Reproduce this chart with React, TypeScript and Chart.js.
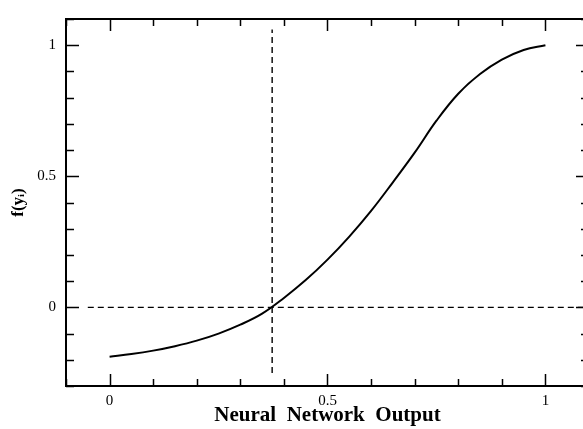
import React, { useEffect, useRef } from "react";
import { Chart, registerables } from "chart.js";

Chart.register(...registerables);

// Curve f(y_i) versus neural network output
const xValues = [0, 0.05, 0.1, 0.15, 0.2, 0.25, 0.3, 0.35, 0.4, 0.45, 0.5, 0.55, 0.6, 0.65, 0.7, 0.75, 0.8, 0.85, 0.9, 0.95, 1.0];
const yValues = [-0.188, -0.178, -0.165, -0.148, -0.127, -0.1, -0.066, -0.024, 0.036, 0.104, 0.182, 0.27, 0.368, 0.477, 0.59, 0.712, 0.815, 0.89, 0.945, 0.982, 1.0];

// Dashed reference lines
const zeroLineX = [-0.05, 1.1];
const zeroLineY = [0, 0];
const crossX = [0.373, 0.373];
const crossY = [-0.25, 1.06];

// Axis ticks
const xTickLabels = [0, 0.5, 1];
const yTickLabels = [0, 0.5, 1];
const xMinorTicks = [-0.1, 0, 0.1, 0.2, 0.3, 0.4, 0.5, 0.6, 0.7, 0.8, 0.9, 1.0, 1.1];
const yMinorTicks = [-0.3, -0.2, -0.1, 0, 0.1, 0.2, 0.3, 0.4, 0.5, 0.6, 0.7, 0.8, 0.9, 1.0, 1.1];

const X_MIN = -0.1;
const X_MAX = 1.1;
const Y_MIN = -0.3;
const Y_MAX = 1.1;

const isMajor = (v: number, list: number[]) => list.some((m) => Math.abs(m - v) < 1e-6);

const frameTicks = {
  id: "frameTicks",
  afterDraw(chart: any) {
    const ctx = chart.ctx;
    const { left, right, top, bottom } = chart.chartArea;
    const xs = chart.scales.x;
    const ys = chart.scales.y;
    ctx.save();
    ctx.strokeStyle = "#000";
    ctx.lineWidth = 2;
    ctx.beginPath();
    ctx.moveTo(left, top);
    ctx.lineTo(right, top);
    ctx.lineTo(right, bottom);
    ctx.lineTo(left, bottom);
    ctx.closePath();
    ctx.stroke();
    ctx.lineWidth = 1.5;
    ctx.beginPath();
    for (const v of xMinorTicks) {
      const px = Math.round(xs.getPixelForValue(v)) + 0.5;
      const len = isMajor(v, xTickLabels) ? 12 : 7;
      ctx.moveTo(px, bottom);
      ctx.lineTo(px, bottom - len);
      ctx.moveTo(px, top);
      ctx.lineTo(px, top + len);
    }
    for (const v of yMinorTicks) {
      const py = Math.round(ys.getPixelForValue(v)) + 0.5;
      const len = isMajor(v, yTickLabels) ? 13 : 8;
      ctx.moveTo(left, py);
      ctx.lineTo(left + len, py);
      ctx.moveTo(right, py);
      ctx.lineTo(right - len, py);
    }
    ctx.stroke();
    ctx.restore();
  },
};

export default function App() {
  const canvasRef = useRef<HTMLCanvasElement | null>(null);

  useEffect(() => {
    document.body.style.margin = "0";
    const canvas = canvasRef.current;
    if (!canvas) return;
    const curve = xValues.map((x, i) => ({ x, y: yValues[i] }));
    const zeroLine = zeroLineX.map((x, i) => ({ x, y: zeroLineY[i] }));
    const crossLine = crossX.map((x, i) => ({ x, y: crossY[i] }));

    const chart = new Chart(canvas, {
      type: "line",
      data: {
        datasets: [
          {
            label: "zero",
            data: zeroLine,
            borderColor: "#000",
            borderWidth: 1.4,
            borderDash: [6, 4],
            pointRadius: 0,
            fill: false,
          },
          {
            label: "crossing",
            data: crossLine,
            borderColor: "#000",
            borderWidth: 1.4,
            borderDash: [6, 4],
            pointRadius: 0,
            fill: false,
          },
          {
            label: "f(yi)",
            data: curve,
            borderColor: "#000",
            borderWidth: 2,
            pointRadius: 0,
            tension: 0.4,
            fill: false,
          },
        ],
      },
      options: {
        responsive: false,
        animation: false,
        layout: { padding: { left: 0, right: 11, top: 13, bottom: 0 } },
        plugins: {
          legend: { display: false },
          tooltip: { enabled: false },
        },
        scales: {
          x: {
            type: "linear",
            min: X_MIN,
            max: X_MAX,
            grid: { display: false, drawTicks: false },
            border: { display: false },
            afterBuildTicks: (scale: any) => {
              scale.ticks = xTickLabels.map((v) => ({ value: v }));
            },
            afterFit: (scale: any) => {
              scale.height = 43;
            },
            ticks: {
              padding: 6,
              color: "#000",
              maxRotation: 0,
              autoSkip: false,
              font: { family: "'Liberation Serif', serif", size: 15 },
              callback: (v: any) => String(v),
            },
            title: {
              display: true,
              text: "Neural  Network  Output",
              color: "#000",
              font: { family: "'Liberation Serif', serif", size: 21, weight: "bold" },
              padding: { top: 0, bottom: 1 },
            },
          },
          y: {
            type: "linear",
            min: Y_MIN,
            max: Y_MAX,
            grid: { display: false, drawTicks: false },
            border: { display: false },
            afterBuildTicks: (scale: any) => {
              scale.ticks = yTickLabels.map((v) => ({ value: v }));
            },
            afterFit: (scale: any) => {
              scale.width = 66;
            },
            ticks: {
              padding: 10,
              color: "#000",
              autoSkip: false,
              font: { family: "'Liberation Serif', serif", size: 15 },
              callback: (v: any) => String(v),
            },
            title: {
              display: true,
              text: "f(yᵢ)",
              color: "#000",
              font: { family: "'Liberation Serif', serif", size: 17, weight: "bold" },
              padding: { top: 8, bottom: 0 },
            },
          },
        },
      },
      plugins: [frameTicks],
    });
    return () => chart.destroy();
  }, []);

  return (
    <div
      style={{
        position: "fixed",
        left: 0,
        top: 0,
        width: 583,
        height: 429,
        overflow: "hidden",
        background: "#fff",
      }}
    >
      <canvas ref={canvasRef} width={600} height={429} style={{ display: "block" }} />
    </div>
  );
}
